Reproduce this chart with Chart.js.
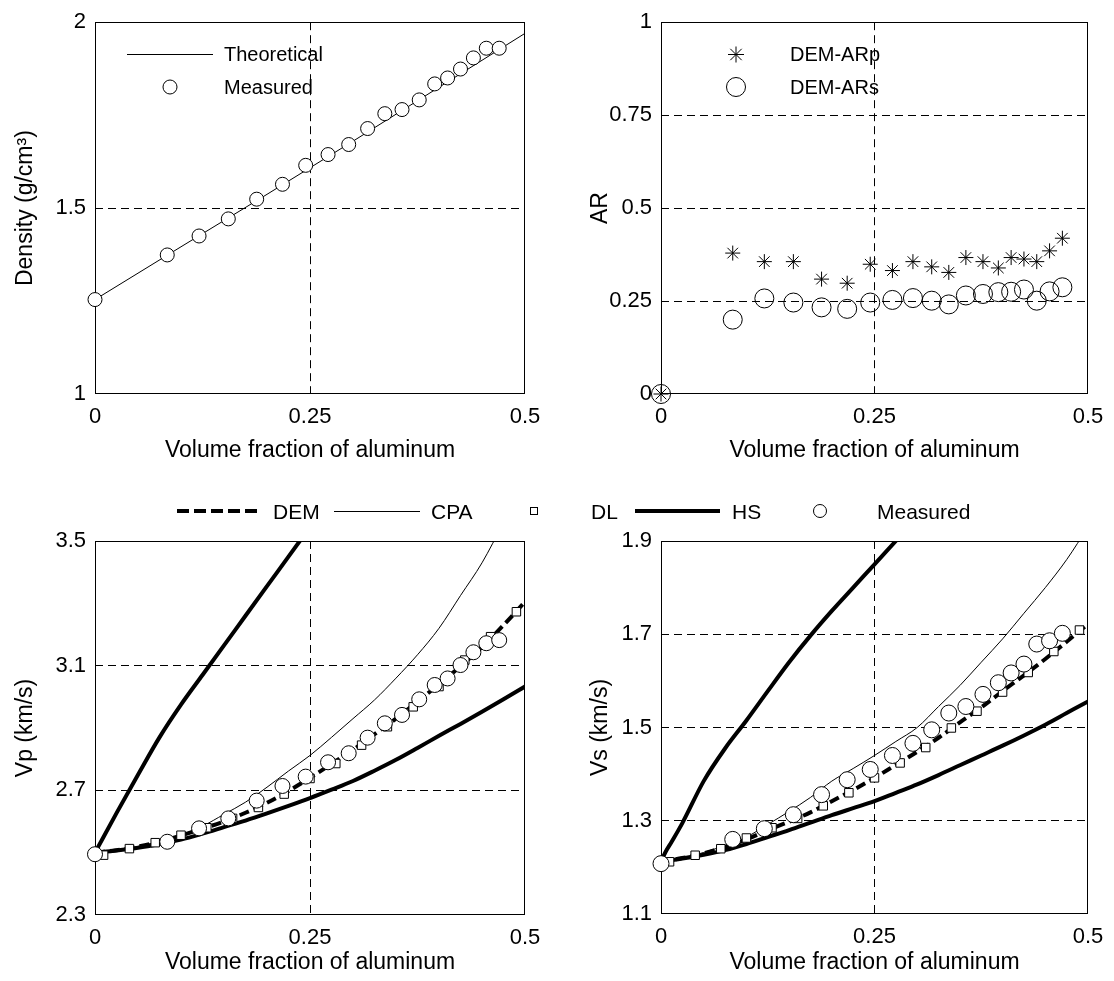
<!DOCTYPE html>
<html>
<head>
<meta charset="utf-8">
<script src="https://cdn.jsdelivr.net/npm/chart.js@4.4.1/dist/chart.umd.min.js"></script>
<style>
  body { margin: 0; background: #fff; }
  #page { position: relative; width: 1114px; height: 981px; overflow: hidden; }
  canvas { position: absolute; }
  svg { position: absolute; left: 0; top: 0; pointer-events: none; }
  svg text { font-family: "Liberation Sans", Arial, sans-serif; fill: #000; }
</style>
</head>
<body>
<div id="page">
  <canvas id="density" width="557" height="470" style="left:0;top:0"></canvas>
  <canvas id="ar" width="557" height="470" style="left:557px;top:0"></canvas>
  <canvas id="vp" width="557" height="511" style="left:0;top:470px"></canvas>
  <canvas id="vs" width="557" height="511" style="left:557px;top:470px"></canvas>
  <svg width="1114" height="981">
    <!-- density legend -->
    <line x1="127" y1="54.5" x2="213" y2="54.5" stroke="#000" stroke-width="1"/>
    <text x="224" y="61" font-size="20">Theoretical</text>
    <circle cx="170" cy="87" r="7" fill="#fff" stroke="#000"/>
    <text x="224" y="94" font-size="20">Measured</text>
    <!-- AR legend -->
    <path d="M728 54.5h16M736 46.5v16M730.3 48.8l11.4 11.4M741.7 48.8l-11.4 11.4" stroke="#000" stroke-width="1"/>
    <text x="790" y="61" font-size="20">DEM-ARp</text>
    <circle cx="736" cy="87" r="9.5" fill="none" stroke="#000"/>
    <text x="790" y="94" font-size="20">DEM-ARs</text>
    <!-- velocity legend -->
    <line x1="177" y1="511" x2="257" y2="511" stroke="#000" stroke-width="4" stroke-dasharray="12 5"/>
    <text x="273" y="518.5" font-size="21">DEM</text>
    <line x1="334" y1="511.5" x2="420" y2="511.5" stroke="#000" stroke-width="1"/>
    <text x="431" y="518.5" font-size="21">CPA</text>
    <rect x="530.5" y="507.5" width="7" height="7" fill="#fff" stroke="#000"/>
    <text x="591" y="518.5" font-size="21">DL</text>
    <line x1="635" y1="511" x2="720" y2="511" stroke="#000" stroke-width="4"/>
    <text x="732" y="518.5" font-size="21">HS</text>
    <circle cx="820" cy="511" r="6.5" fill="#fff" stroke="#000"/>
    <text x="877" y="518.5" font-size="21">Measured</text>
  </svg>
</div>
<script>
// axes
const xTicks = [0, 0.25, 0.5];
const xTickLabels = ['0', '0.25', '0.5'];
const densityTicks = [1, 1.5, 2];
const densityTickLabels = ['1', '1.5', '2'];
const arTicks = [0, 0.25, 0.5, 0.75, 1];
const arTickLabels = ['0', '0.25', '0.5', '0.75', '1'];
const vpTicks = [2.3, 2.7, 3.1, 3.5];
const vpTickLabels = ['2.3', '2.7', '3.1', '3.5'];
const vsTicks = [1.1, 1.3, 1.5, 1.7, 1.9];
const vsTickLabels = ['1.1', '1.3', '1.5', '1.7', '1.9'];

// measured samples (volume fraction of aluminum)
const phiMeasured = [0, 0.084, 0.121, 0.155, 0.188, 0.218, 0.245, 0.271, 0.295, 0.317,
  0.337, 0.357, 0.377, 0.395, 0.41, 0.425, 0.44, 0.455, 0.47];
const densityMeasured = [1.254, 1.374, 1.425, 1.471, 1.524, 1.564, 1.615, 1.644, 1.671, 1.714,
  1.754, 1.765, 1.791, 1.834, 1.85, 1.874, 1.904, 1.93, 1.93];
const arP = [0, 0.379, 0.356, 0.356, 0.309, 0.298, 0.349, 0.332, 0.356, 0.342,
  0.327, 0.367, 0.356, 0.339, 0.367, 0.363, 0.356, 0.385, 0.419];
const arS = [0, 0.2, 0.257, 0.246, 0.233, 0.229, 0.246, 0.253, 0.258, 0.251,
  0.241, 0.265, 0.269, 0.274, 0.275, 0.281, 0.251, 0.276, 0.287];
const vpMeasured = [2.495, 2.535, 2.578, 2.61, 2.667, 2.714, 2.744, 2.79, 2.819, 2.869,
  2.915, 2.942, 2.992, 3.038, 3.059, 3.102, 3.143, 3.172, 3.182];
const vsMeasured = [1.208, 1.26, 1.283, 1.313, 1.356, 1.388, 1.41, 1.44, 1.466, 1.495,
  1.531, 1.545, 1.571, 1.596, 1.617, 1.636, 1.679, 1.686, 1.702];

// theoretical density
const phiTheory = [0, 0.1, 0.2, 0.3, 0.4, 0.5];
const densityTheory = [1.254, 1.396, 1.537, 1.68, 1.825, 1.97];

// model curves
const phiCurve = [0, 0.025, 0.05, 0.075, 0.1, 0.125, 0.15, 0.175, 0.2, 0.225, 0.25,
  0.275, 0.3, 0.325, 0.35, 0.375, 0.4, 0.425, 0.45, 0.475, 0.5];
const vpDem = [2.5, 2.508, 2.52, 2.535, 2.555, 2.577, 2.6, 2.628, 2.66, 2.698, 2.74,
  2.785, 2.83, 2.88, 2.93, 2.985, 3.04, 3.098, 3.16, 3.23, 3.305];
const vpCpa = [2.5, 2.508, 2.52, 2.537, 2.557, 2.585, 2.623, 2.662, 2.71, 2.762, 2.812,
  2.87, 2.93, 2.99, 3.06, 3.135, 3.22, 3.325, 3.43, 3.56, 3.7];
const vpHsLower = [2.5, 2.507, 2.516, 2.528, 2.542, 2.561, 2.582, 2.603, 2.626, 2.65, 2.675,
  2.702, 2.73, 2.763, 2.798, 2.836, 2.875, 2.913, 2.952, 2.992, 3.033];
const phiHsUpper = [0, 0.025, 0.05, 0.075, 0.1, 0.125, 0.15, 0.175, 0.2, 0.225, 0.25];
const vpHsUpper = [2.5, 2.627, 2.75, 2.87, 2.975, 3.07, 3.165, 3.26, 3.355, 3.45, 3.545];

const vsDem = [1.212, 1.22, 1.23, 1.244, 1.26, 1.28, 1.298, 1.318, 1.342, 1.366, 1.392,
  1.42, 1.448, 1.478, 1.511, 1.543, 1.578, 1.612, 1.647, 1.684, 1.722];
const vsCpa = [1.212, 1.22, 1.232, 1.247, 1.265, 1.292, 1.32, 1.35, 1.385, 1.412, 1.44,
  1.47, 1.5, 1.545, 1.59, 1.64, 1.69, 1.745, 1.8, 1.86, 1.93];
const vsHsLower = [1.212, 1.219, 1.227, 1.237, 1.25, 1.265, 1.28, 1.296, 1.312, 1.327, 1.342,
  1.36, 1.378, 1.398, 1.419, 1.44, 1.461, 1.483, 1.506, 1.531, 1.556];
const phiHsUpperVs = [0, 0.005, 0.0125, 0.025, 0.05, 0.075, 0.1, 0.125, 0.15, 0.175, 0.2,
  0.225, 0.25, 0.275, 0.3];
const vsHsUpper = [1.212, 1.232, 1.255, 1.295, 1.385, 1.455, 1.515, 1.578, 1.64, 1.697, 1.75,
  1.8, 1.85, 1.9, 1.95];

// DL points
const phiDl = [0.01, 0.04, 0.07, 0.1, 0.13, 0.16, 0.19, 0.22, 0.25, 0.28, 0.31, 0.34,
  0.37, 0.4, 0.43, 0.46, 0.49];
const vpDl = [2.492, 2.513, 2.532, 2.556, 2.58, 2.61, 2.645, 2.688, 2.738, 2.786, 2.845,
  2.904, 2.968, 3.033, 3.118, 3.193, 3.273];
const vsDl = [1.212, 1.226, 1.24, 1.263, 1.285, 1.305, 1.332, 1.36, 1.392, 1.424, 1.457,
  1.499, 1.535, 1.576, 1.618, 1.663, 1.709];

Chart.defaults.font.family = '"Liberation Sans", Arial, sans-serif';
Chart.defaults.color = '#000';
Chart.defaults.animation = false;

const tickFont = { size: 22 };
const titleFont = { size: 23 };

function pts(xs, ys) {
  return xs.map((x, i) => ({ x: x, y: ys[i] }));
}

// only interior grid lines, the box is drawn separately
function innerGrid(ctx, n) {
  return (ctx.index === 0 || ctx.index === n - 1) ? 'rgba(0,0,0,0)' : '#000';
}

const boxPlugin = {
  id: 'box',
  beforeDatasetsDraw(chart) {
    const a = chart.chartArea;
    const c = chart.ctx;
    c.save();
    c.strokeStyle = '#000';
    c.lineWidth = 1;
    c.strokeRect(Math.round(a.left) + 0.5, Math.round(a.top) + 0.5,
      Math.round(a.right - a.left) - 1, Math.round(a.bottom - a.top) - 1);
    c.restore();
  }
};

function makeScales(o) {
  return {
    x: {
      type: 'linear', min: 0, max: 0.5,
      afterBuildTicks: s => { s.ticks = xTicks.map(v => ({ value: v })); },
      afterFit: s => { s.height = o.xHeight; },
      ticks: { autoSkip: false, maxRotation: 0, padding: 10, font: tickFont,
        callback: (v, i) => xTickLabels[i] },
      grid: { drawTicks: false, lineWidth: 1, color: c => innerGrid(c, xTicks.length) },
      border: { display: false, dash: [8, 5] },
      title: { display: true, text: 'Volume fraction of aluminum', font: titleFont,
        padding: { top: 0, bottom: o.xTitlePad } }
    },
    y: {
      type: 'linear', min: o.yTicks[0], max: o.yTicks[o.yTicks.length - 1],
      afterBuildTicks: s => { s.ticks = o.yTicks.map(v => ({ value: v })); },
      afterFit: s => { s.width = o.yWidth; },
      ticks: { autoSkip: false, padding: 9, font: tickFont,
        callback: (v, i) => o.yLabels[i] },
      grid: { drawTicks: false, lineWidth: 1, color: c => innerGrid(c, o.yTicks.length) },
      border: { display: false, dash: [8, 5] },
      title: { display: true, text: o.yTitle, font: titleFont,
        padding: { top: o.yTitlePad, bottom: 0 } }
    }
  };
}

function makeChart(id, datasets, scaleOpts, padding) {
  return new Chart(document.getElementById(id), {
    type: 'scatter',
    data: { datasets: datasets },
    options: {
      responsive: false,
      events: [],
      layout: { padding: padding },
      plugins: { legend: { display: false }, tooltip: { enabled: false } },
      scales: makeScales(scaleOpts)
    },
    plugins: [boxPlugin]
  });
}

function curve(label, xs, ys, width, dash, order) {
  return {
    label: label, data: pts(xs, ys), showLine: true, pointRadius: 0,
    borderColor: '#000', borderWidth: width, borderDash: dash,
    cubicInterpolationMode: 'monotone', order: order
  };
}

function markers(label, xs, ys, style, radius, fill, order) {
  return {
    label: label, data: pts(xs, ys), showLine: false, clip: false,
    pointStyle: style, pointRadius: radius, pointBorderWidth: 1,
    pointBorderColor: '#000', pointBackgroundColor: fill, order: order
  };
}

makeChart('density', [
  curve('Theoretical', phiTheory, densityTheory, 1, [], 1),
  markers('Measured', phiMeasured, densityMeasured, 'circle', 7, '#fff', 0)
], { yTicks: densityTicks, yLabels: densityTickLabels, yTitle: 'Density (g/cm³)',
  yWidth: 95, yTitlePad: 12, xHeight: 76, xTitlePad: 6 },
{ top: 20, right: 32, bottom: 0, left: 0 });

makeChart('ar', [
  markers('DEM-ARp', phiMeasured, arP, 'star', 7.5, 'rgba(0,0,0,0)', 1),
  markers('DEM-ARs', phiMeasured, arS, 'circle', 9.5, 'rgba(0,0,0,0)', 0)
], { yTicks: arTicks, yLabels: arTickLabels, yTitle: 'AR',
  yWidth: 104, yTitlePad: 30, xHeight: 76, xTitlePad: 6 },
{ top: 20, right: 26, bottom: 0, left: 0 });

makeChart('vp', [
  curve('DEM', phiCurve, vpDem, 4, [10, 5], 2),
  curve('CPA', phiCurve, vpCpa, 1, [], 3),
  markers('DL', phiDl, vpDl, 'rect', 6, '#fff', 1),
  curve('HS', phiHsUpper, vpHsUpper, 4, [], 4),
  curve('HS lower', phiCurve, vpHsLower, 4, [], 4),
  markers('Measured', phiMeasured, vpMeasured, 'circle', 7.5, '#fff', 0)
], { yTicks: vpTicks, yLabels: vpTickLabels, yTitle: 'Vp (km/s)',
  yWidth: 95, yTitlePad: 12, xHeight: 66, xTitlePad: 5 },
{ top: 71, right: 32, bottom: 0, left: 0 });

makeChart('vs', [
  curve('DEM', phiCurve, vsDem, 4, [10, 5], 2),
  curve('CPA', phiCurve, vsCpa, 1, [], 3),
  markers('DL', phiDl, vsDl, 'rect', 6, '#fff', 1),
  curve('HS', phiHsUpperVs, vsHsUpper, 4, [], 4),
  curve('HS lower', phiCurve, vsHsLower, 4, [], 4),
  markers('Measured', phiMeasured, vsMeasured, 'circle', 8, '#fff', 0)
], { yTicks: vsTicks, yLabels: vsTickLabels, yTitle: 'Vs (km/s)',
  yWidth: 104, yTitlePad: 30, xHeight: 67, xTitlePad: 5 },
{ top: 71, right: 26, bottom: 0, left: 0 });
</script>
</body>
</html>
